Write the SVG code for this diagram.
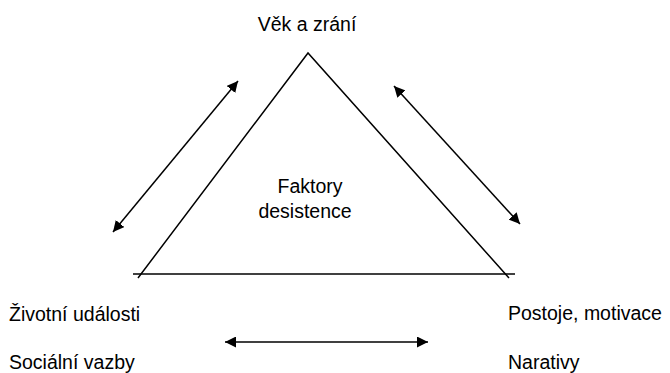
<svg xmlns="http://www.w3.org/2000/svg" width="670" height="373" viewBox="0 0 670 373">
<style>
text{font-family:"Liberation Sans",Arial,sans-serif;font-size:19.5px;fill:#000}
.ln{stroke:#000;stroke-width:1.5;fill:none}
.ar{stroke:#000;stroke-width:1.5;fill:none;marker-start:url(#ah);marker-end:url(#ah)}
</style>
<defs>
<marker id="ah" viewBox="0 0 10 10" refX="10" refY="5" markerWidth="11" markerHeight="11" markerUnits="userSpaceOnUse" orient="auto-start-reverse">
<path d="M0,0 L10,5 L0,10 z" fill="#000"/>
</marker>
</defs>
<rect width="670" height="373" fill="#fff"/>
<g id="triangle">
<path class="ln" d="M138,278 L308,53 L509,278"/>
<line class="ln" x1="133" y1="274" x2="515" y2="274"/>
<text x="310" y="193" text-anchor="middle">Faktory</text>
<text x="305" y="218" text-anchor="middle">desistence</text>
</g>
<g id="vek"><text x="307" y="31" text-anchor="middle">Věk a zrání</text></g>
<g id="zivotni"><text x="9" y="321">Životní události</text></g>
<g id="socialni"><text x="9" y="369">Sociální vazby</text></g>
<g id="postoje"><text x="508" y="320">Postoje, motivace</text></g>
<g id="narativy"><text x="508" y="369">Narativy</text></g>
<g id="connectors">
<line class="ar" x1="113" y1="232" x2="238" y2="81"/>
<line class="ar" x1="394" y1="86" x2="520" y2="224"/>
<line class="ar" x1="225" y1="342" x2="428" y2="342"/>
</g>
</svg>
